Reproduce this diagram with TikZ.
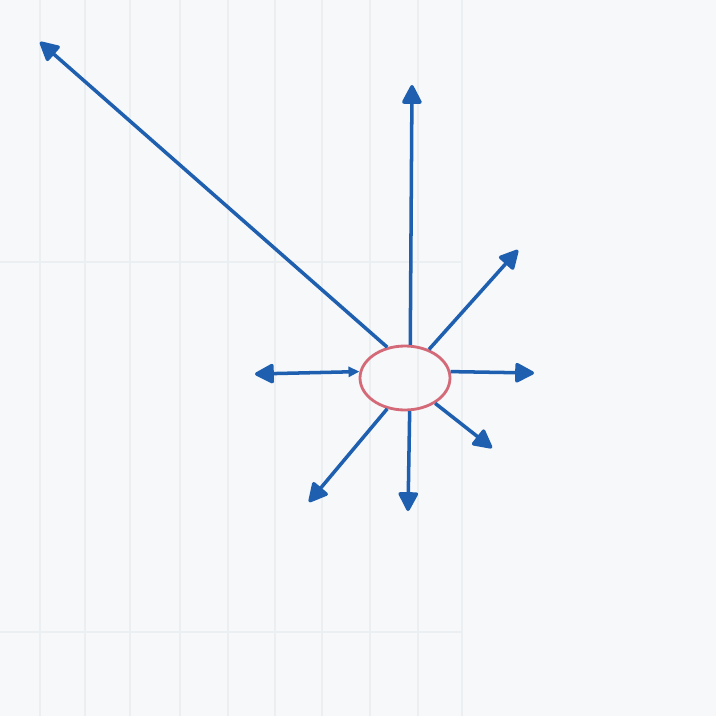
\documentclass[tikz,border=0pt]{standalone}
\usetikzlibrary{shapes.geometric,arrows.meta}
\definecolor{paper}{HTML}{F6F8FA}
\definecolor{pen}{HTML}{1E5FB0}
\definecolor{redpen}{HTML}{D46A78}
\definecolor{gridc}{HTML}{ECEFF2}
\begin{document}
\begin{tikzpicture}[x=0.02cm,y=-0.02cm,
  tipbig/.style={-{Triangle[length=0.42cm,width=0.42cm,round]}},
  ray/.style={draw=pen,line width=2pt,tipbig},
  hub/.style={ellipse,draw=redpen,line width=1.6pt,minimum width=1.8cm,minimum height=1.28cm,inner sep=0pt}]
\fill[paper] (0,0) rectangle (716,716);
\useasboundingbox (0,0) rectangle (716,716);
% faint grid of the paper
\foreach \gx in {40,85,130,180,228,275,322,370,418,462}
  \draw[gridc,line width=0.6pt] (\gx,0) -- (\gx,716);
\foreach \gy in {262,632}
  \draw[gridc,line width=0.6pt] (0,\gy) -- (462,\gy);
\node[hub] (c) at (405,378) {};
\coordinate (t1) at (40,42);
\coordinate (t2) at (412,85);
\coordinate (t3) at (518,250);
\coordinate (t4) at (534,373);
\coordinate (t5) at (492,448);
\coordinate (t6) at (408,511);
\coordinate (t7) at (309,502);
\coordinate (t8) at (255,374);
\draw[ray] (c.120) -- (t1);
\draw[ray] (c.81) -- (t2);
\draw[ray] (c.50) -- (t3);
\draw[ray] (c.8) -- (t4);
\draw[ray] (c.-40) -- (t5);
\draw[ray] (c.-82) -- (t6);
\draw[ray] (c.-120) -- (t7);
\draw[draw=pen,line width=2pt,{Triangle[length=0.22cm,width=0.2cm]}-{Triangle[length=0.42cm,width=0.42cm,round]}] (c.172) -- (t8);
\end{tikzpicture}
\end{document}
